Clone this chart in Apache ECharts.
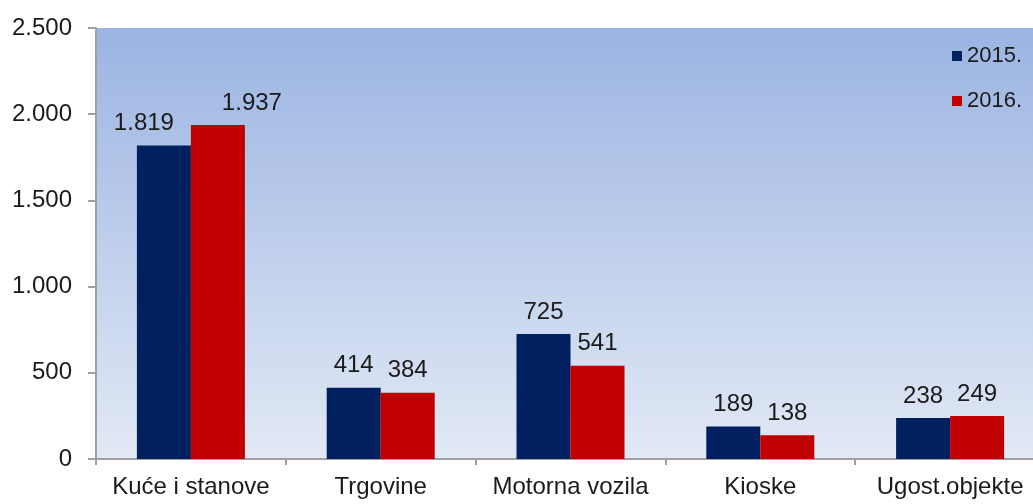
<!DOCTYPE html>
<html lang="hr">
<head>
    <meta charset="UTF-8">
    <title>Bar chart</title>
    <script src="https://cdn.jsdelivr.net/npm/echarts@6/dist/echarts.min.js"></script>
    <style>
        html, body { margin: 0; padding: 0; background: #fff; overflow: hidden; }
    </style>
</head>
<body>
    <div id="main" style="width: 1060px; height: 504px;"></div>
    <script>
        var categories = ['Kuće i stanove', 'Trgovine', 'Motorna vozila', 'Kioske', 'Ugost.objekte'];
        var values2015 = [1819, 414, 725, 189, 238];
        var values2016 = [1937, 384, 541, 138, 249];
        var seriesNames = ['2015.', '2016.'];

        function fmt(v) {
            return String(v).replace(/\B(?=(\d{3})+(?!\d))/g, '.');
        }

        // labels on the first group sit a bit off-centre in the original
        function withLabels(values, firstOffsetX) {
            return values.map(function (v, i) {
                if (i === 0) {
                    return { value: v, label: { offset: [firstOffsetX, 0] } };
                }
                return v;
            });
        }

        var myChart = echarts.init(document.getElementById('main'));
        var labelStyle = {
            show: true,
            position: 'top',
            distance: 10,
            fontSize: 24,
            color: '#1a1a1a',
            formatter: function (p) { return fmt(p.value); }
        };
        var option = {
            animation: false,
            backgroundColor: '#fff',
            textStyle: { fontFamily: 'Liberation Sans, Arial' },
            legend: {
                orient: 'vertical',
                left: 947,
                top: 40,
                icon: 'rect',
                itemWidth: 10,
                itemHeight: 10,
                itemGap: 23,
                textStyle: { fontSize: 22, color: '#1a1a1a' },
                data: seriesNames
            },
            grid: {
                left: 96,
                top: 28,
                width: 949,
                bottom: 45,
                show: true,
                borderWidth: 0,
                backgroundColor: new echarts.graphic.LinearGradient(0, 0, 0, 1, [
                    { offset: 0, color: '#9bb4e2' },
                    { offset: 1, color: '#e2e9f5' }
                ])
            },
            xAxis: {
                type: 'category',
                data: categories,
                axisLine: { lineStyle: { color: '#a0a0a0', width: 2 } },
                axisTick: { show: true, interval: 0, length: 6, lineStyle: { color: '#a0a0a0', width: 2 } },
                axisLabel: { interval: 0, fontSize: 24, color: '#1a1a1a', margin: 16 }
            },
            yAxis: {
                type: 'value',
                min: 0,
                max: 2500,
                interval: 500,
                axisLine: { show: true, lineStyle: { color: '#a0a0a0', width: 2 } },
                axisTick: { show: true, length: 8, lineStyle: { color: '#a0a0a0', width: 2 } },
                splitLine: { show: false },
                axisLabel: {
                    fontSize: 24,
                    color: '#1a1a1a',
                    margin: 24,
                    formatter: function (v) { return fmt(v); }
                }
            },
            series: [
                {
                    name: seriesNames[0],
                    type: 'bar',
                    data: withLabels(values2015, -20),
                    barWidth: 54,
                    barGap: '0%',
                    itemStyle: { color: '#002060' },
                    label: labelStyle
                },
                {
                    name: seriesNames[1],
                    type: 'bar',
                    data: withLabels(values2016, 34),
                    barWidth: 54,
                    barGap: '0%',
                    itemStyle: { color: '#c00000' },
                    label: labelStyle
                }
            ]
        };
        myChart.setOption(option);
    </script>
</body>
</html>
